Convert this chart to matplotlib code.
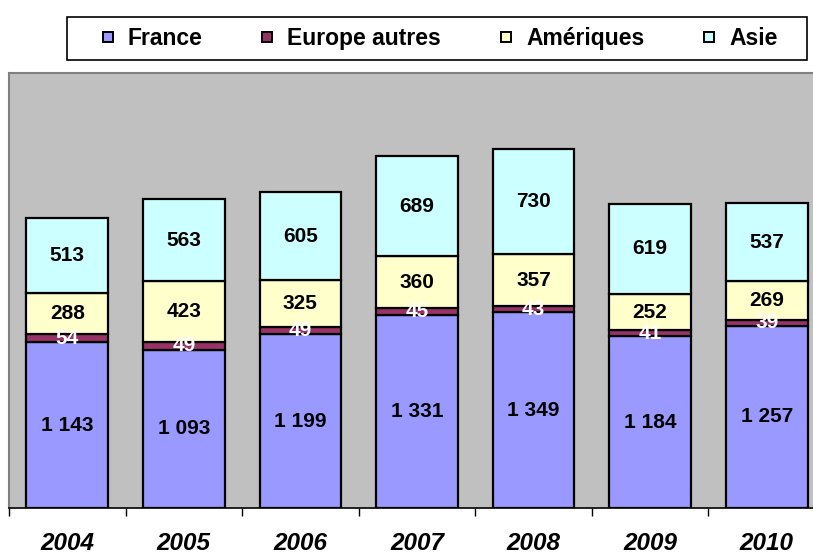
import matplotlib
matplotlib.use("Agg")
import matplotlib.pyplot as plt
import numpy as np
from matplotlib.lines import Line2D
from matplotlib.patches import Rectangle

plt.rcParams["font.family"] = ["Liberation Sans", "DejaVu Sans"]

years = ["2004", "2005", "2006", "2007", "2008", "2009", "2010"]
france = [1143, 1093, 1199, 1331, 1349, 1184, 1257]
europe = [54, 49, 49, 45, 43, 41, 39]
ameriques = [288, 423, 325, 360, 357, 252, 269]
asie = [513, 563, 605, 689, 730, 619, 537]

series = [
    ("France", france, "#9999FF", "black"),
    ("Europe autres", europe, "#993366", "white"),
    ("Amériques", ameriques, "#FFFFCC", "black"),
    ("Asie", asie, "#CCFFFF", "black"),
]


def fmt(v):
    return f"{v:,}".replace(",", " ")


W, H = 813, 554
fig = plt.figure(figsize=(W / 100, H / 100), dpi=100)
ax = fig.add_axes([9 / W, 1 - 508 / H, (825 - 9) / W, (508 - 73) / H])
ax.set_facecolor("#C0C0C0")

x = np.arange(len(years))
bottom = np.zeros(len(years))
handles = []
for name, vals, color, tcolor in series:
    vals = np.array(vals)
    ax.bar(x, vals, width=0.70, bottom=bottom, color=color,
           edgecolor="black", linewidth=1.6, zorder=2)
    for xi, b, v in zip(x, bottom, vals):
        ax.text(xi, b + v / 2, fmt(v), ha="center", va="center",
                fontsize=15, fontweight="bold", color=tcolor, zorder=3)
    bottom += vals
    handles.append(Line2D([], [], marker="s", linestyle="none", markersize=7.5,
                          markerfacecolor=color, markeredgecolor="black",
                          markeredgewidth=1.4, label=name))

ax.set_xlim(-0.5, len(years) - 0.5)
ax.set_ylim(0, 3000)
ax.set_yticks([])

ax.set_xticks(x)
ax.set_xticklabels(years, fontsize=17.5, fontweight="bold", fontstyle="italic")
ax.tick_params(axis="x", which="major", length=0, pad=17)
ax.set_xticks(np.arange(-0.5, len(years), 1.0), minor=True)
ax.tick_params(axis="x", which="minor", length=6, width=1, color="black")

for side in ["left", "top"]:
    ax.spines[side].set_color("#808080")
    ax.spines[side].set_linewidth(1.5)
ax.spines["right"].set_visible(False)
ax.spines["bottom"].set_color("black")
ax.spines["bottom"].set_linewidth(1.2)

# legend box
fig.patches.append(Rectangle((67 / W, 1 - 60 / H), (807 - 67) / W, (60 - 17) / H,
                             transform=fig.transFigure, facecolor="white",
                             edgecolor="black", linewidth=1.2, zorder=1))
leg = fig.legend(handles=handles, loc="center", bbox_to_anchor=(440 / W, 1 - 38.5 / H),
                 ncol=4, frameon=False, handlelength=0.45, handletextpad=0.65,
                 columnspacing=2.6, prop={"size": 16.5, "weight": "bold"})

fig.savefig("out.png", dpi=100)
